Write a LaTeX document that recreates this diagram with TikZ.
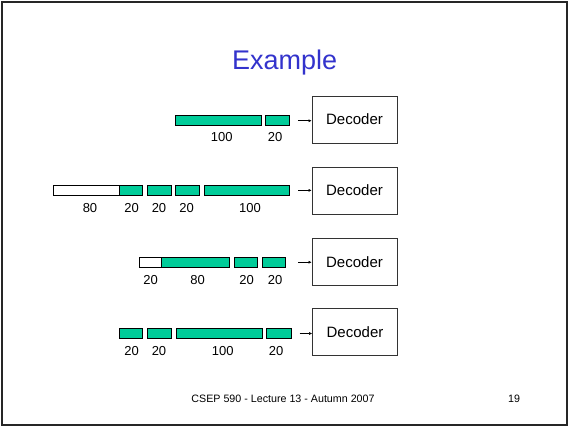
\documentclass[tikz,border=0pt]{standalone}
\usepackage{fontspec}
\setmainfont{Liberation Sans}
\definecolor{seggreen}{HTML}{00CC99}
\definecolor{titleblue}{HTML}{3333CC}
\tikzset{
  seg/.style={draw=black, line width=0.8pt, inner sep=0pt, minimum height=10pt, anchor=west},
  gseg/.style={seg, fill=seggreen},
  wseg/.style={seg, fill=white},
  decbox/.style={draw=black!80, line width=0.8pt, fill=white, minimum width=85pt, minimum height=47pt, inner sep=0pt, font=\fontsize{15}{18}\selectfont},
  lbl/.style={anchor=base, inner sep=0pt, font=\fontsize{13}{15}\selectfont},
  arr/.style={-{Latex[length=3pt,width=3pt]}, line width=0.5pt}
}
\usetikzlibrary{arrows.meta}
\begin{document}
\begin{tikzpicture}[x=1pt,y=-1pt]
\useasboundingbox (0,0) rectangle (568,426);
\draw[line width=2pt, black!85] (1.5,1.5) rectangle (566.5,424.5);
\node[anchor=base, inner sep=0pt, text=titleblue, font=\fontsize{27}{30}\selectfont] (title) at (284.7,69) {Example};
% Row 1
\node[gseg, minimum width=86pt] (a1) at (175,120.7) {};
\node[gseg, minimum width=24pt] (a2) at (265,120.7) {};
\node[lbl] (la1) at (221.7,141.7) {100};
\node[lbl] (la2) at (275,141.7) {20};
\node[decbox] (d1) at (354.5,119.5) {Decoder};
\draw[arr] ([xshift=8pt]a2.east) -- (a2.east -| d1.west);
% Row 2
\node[wseg, minimum width=66pt] (b1) at (52.7,190.4) {};
\node[gseg, minimum width=23.6pt] (b2) at (118.7,190.4) {};
\node[gseg, minimum width=23.7pt] (b3) at (147,190.4) {};
\node[gseg, minimum width=23.7pt] (b4) at (175.3,190.4) {};
\node[gseg, minimum width=85.6pt] (b5) at (203.7,190.4) {};
\node[lbl] (lb1) at (90,212.4) {80};
\node[lbl] (lb2) at (131.7,212.4) {20};
\node[lbl] (lb3) at (159,212.4) {20};
\node[lbl] (lb4) at (186.7,212.4) {20};
\node[lbl] (lb5) at (250,212.4) {100};
\node[decbox] (d2) at (354.5,190.5) {Decoder};
\draw[arr] ([xshift=8pt]b5.east) -- (b5.east -| d2.west);
% Row 3
\node[wseg, minimum width=22.3pt] (c1) at (139,262.2) {};
\node[gseg, minimum width=67.7pt] (c2) at (161.3,262.2) {};
\node[gseg, minimum width=23.3pt] (c3) at (233.7,262.2) {};
\node[gseg, minimum width=23.6pt] (c4) at (261.7,262.2) {};
\node[lbl] (lc1) at (150.7,284) {20};
\node[lbl] (lc2) at (197.7,284) {80};
\node[lbl] (lc3) at (246.7,284) {20};
\node[lbl] (lc4) at (275,284) {20};
\node[decbox] (d3) at (354.5,261.7) {Decoder};
\draw[arr] ([xshift=12pt]c4.east) -- (c4.east -| d3.west);
% Row 4
\node[gseg, minimum width=23.6pt] (e1) at (118.7,333.5) {};
\node[gseg, minimum width=23.4pt] (e2) at (147.3,333.5) {};
\node[gseg, minimum width=85.7pt] (e3) at (176.3,333.5) {};
\node[gseg, minimum width=24.4pt] (e4) at (266.3,333.5) {};
\node[lbl] (le1) at (131.7,355.7) {20};
\node[lbl] (le2) at (159,355.7) {20};
\node[lbl] (le3) at (222.7,355.7) {100};
\node[lbl] (le4) at (276,355.7) {20};
\node[decbox] (d4) at (355,332) {Decoder};
\draw[arr] ([xshift=8pt]e4.east) -- (e4.east -| d4.west);
% Footer
\node[anchor=base, inner sep=0pt, font=\fontsize{10.7}{12}\selectfont] (foot) at (283,402.8) {CSEP 590 - Lecture 13 - Autumn 2007};
\node[anchor=base, inner sep=0pt, font=\fontsize{10.7}{12}\selectfont] (pg) at (514,402.8) {19};
\end{tikzpicture}
\end{document}
